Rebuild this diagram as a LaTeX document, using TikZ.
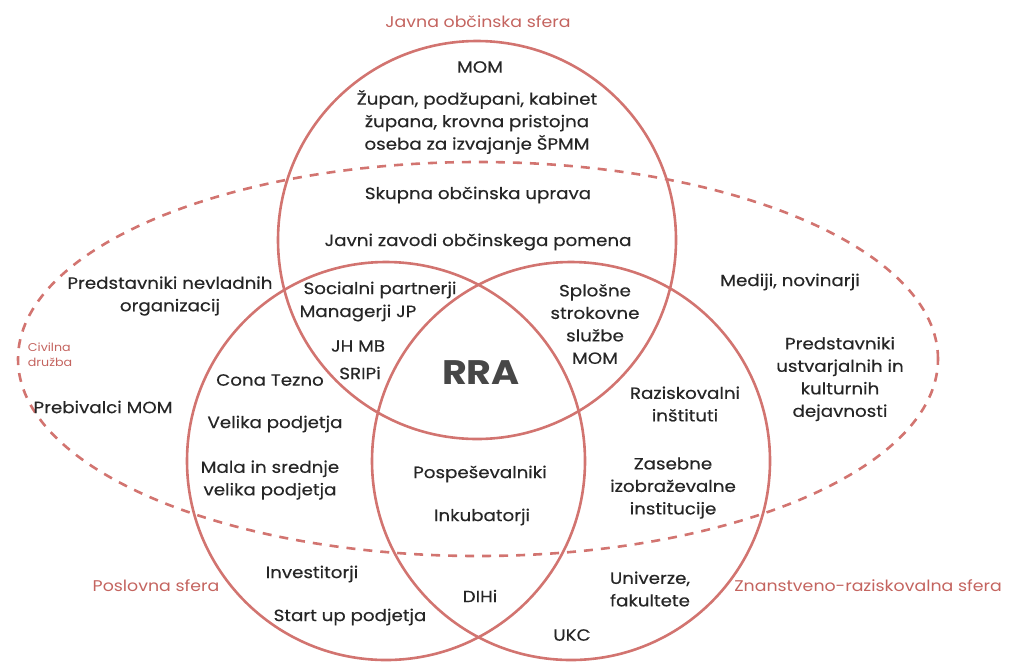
\documentclass[tikz,border=0pt]{standalone}
\usepackage{fontspec}
\setmainfont{Poppins}[FakeStretch=1.12]
\newfontfamily\midfont{Poppins}[FakeStretch=1.12,FakeBold=0.4]
\usetikzlibrary{shapes.geometric}
\definecolor{ring}{HTML}{D27470}
\definecolor{lblc}{HTML}{C4645F}
\definecolor{txtc}{HTML}{262626}
\tikzset{
  ring/.style={circle, draw=ring, line width=2.6pt, minimum size=398pt, inner sep=0pt},
  civil/.style={ellipse, draw=ring, line width=2.6pt, dash pattern=on 9pt off 8pt, minimum width=920pt, minimum height=394pt, inner sep=0pt},
  txt/.style={font=\midfont\fontsize{16.3}{22.5}\selectfont, text=txtc, align=center, inner sep=0pt},
  lbl/.style={font=\fontsize{15.5}{17}\selectfont, text=lblc, inner sep=0pt},
  small/.style={font=\fontsize{11.3}{15}\selectfont, text=lblc, align=left, inner sep=0pt},
  big/.style={font=\fontsize{34}{38}\selectfont\bfseries, text=txtc!85, inner sep=0pt}
}
\begin{document}
\begin{tikzpicture}[x=1pt,y=-1pt]
\useasboundingbox (0,0) rectangle (1011,662);
\node[civil] (civ) at (478,359) {};
\node[ring] (pub) at (477,240) {};
\node[ring] (bus) at (386,461) {};
\node[ring] (sci) at (571,461) {};

\node[lbl] (lpub) at (478,22) {Javna občinska sfera};
\node[lbl] (lbus) at (156,586) {Poslovna sfera};
\node[lbl] (lsci) at (868,586) {Znanstveno-raziskovalna sfera};
\node[small] (lciv) at (50,355) {Civilna\\družba};

\node[txt] (mom) at (480,67) {MOM};
\node[txt] (zup) at (477,122) {Župan, podžupani, kabinet\\župana, krovna pristojna\\oseba za izvajanje ŠPMM};
\node[txt] (sku) at (478,195) {Skupna občinska uprava};
\node[txt] (jav) at (478,242) {Javni zavodi občinskega pomena};

\node[txt] (nvo) at (170,296) {Predstavniki nevladnih\\organizacij};
\node[txt] (preb) at (103,407) {Prebivalci MOM};
\node[txt] (med) at (790,282) {Mediji, novinarji};
\node[txt] (ust) at (840,379) {Predstavniki\\ustvarjalnih in\\kulturnih\\dejavnosti};

\node[txt] (soc) at (380,290) {Socialni partnerji};
\node[txt] (man) at (358,313) {Managerji JP};
\node[txt] (jh) at (358,346) {JH MB};
\node[txt] (sri) at (360,373) {SRIPi};
\node[txt] (cona) at (270,380) {Cona Tezno};

\node[big] (rra) at (481,373) {RRA};

\node[txt] (spl) at (595,324) {Splošne\\strokovne\\službe\\MOM};
\node[txt] (raz) at (685,404) {Raziskovalni\\inštituti};

\node[txt] (vel) at (275,424) {Velika podjetja};
\node[txt] (mala) at (270,480) {Mala in srednje\\velika podjetja};
\node[txt] (posp) at (480,474) {Pospeševalniki};
\node[txt] (ink) at (482,517) {Inkubatorji};
\node[txt] (zas) at (673,488) {Zasebne\\izobraževalne\\institucije};

\node[txt] (inv) at (312,574) {Investitorji};
\node[txt] (dihi) at (480,596) {DIHi};
\node[txt] (uni) at (650,589) {Univerze,\\fakultete};
\node[txt] (start) at (350,617) {Start up podjetja};
\node[txt] (ukc) at (572,635) {UKC};
\end{tikzpicture}
\end{document}
